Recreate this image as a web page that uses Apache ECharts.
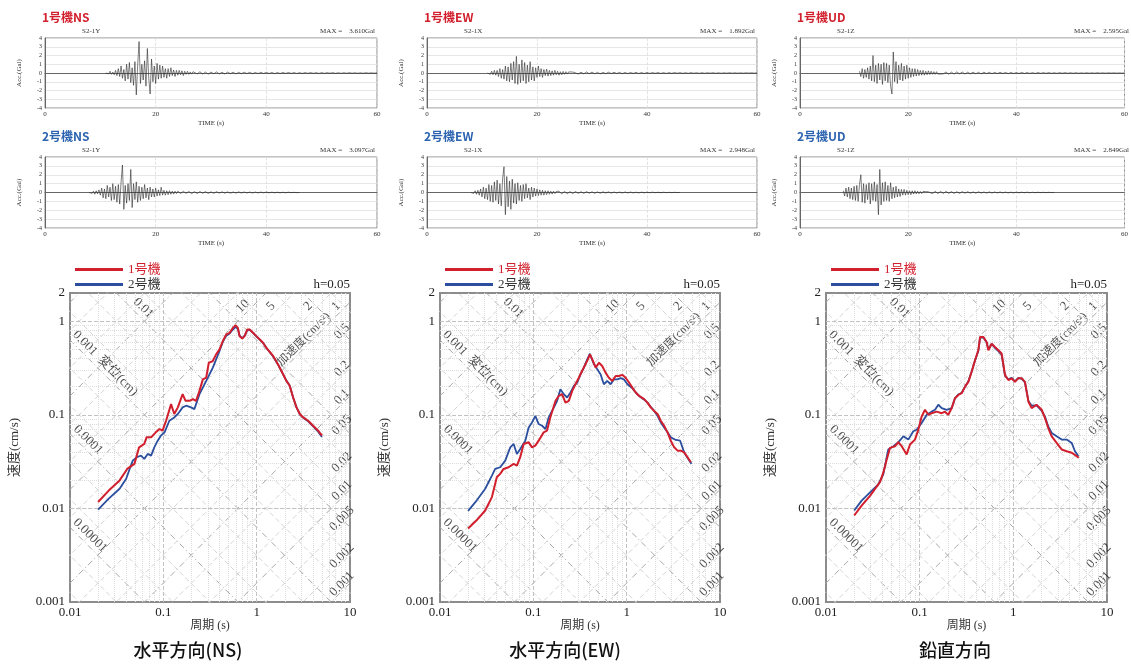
<!DOCTYPE html>
<html>
<head>
  <meta charset="utf-8">
  <title>観測記録と応答スペクトル</title>
  <script src="https://cdn.jsdelivr.net/npm/echarts@6.0.0/dist/echarts.min.js"></script>
  <style>
    body { margin: 0; background: #fff; }
    #chart { width: 1131px; height: 665px; }
  </style>
</head>
<body>
<div id="chart"></div>
<script>
  // 加速度波形 (Gal)：主要動は0.25秒ごと、後続部は0.5秒ごと
  var waveNames = ['1号機NS', '2号機NS', '1号機EW', '2号機EW', '1号機UD', '2号機UD'];
  var waveCodes = ['S2-1Y', 'S2-1Y', 'S2-1X', 'S2-1X', 'S2-1Z', 'S2-1Z'];
  var waveMax = ['3.610', '3.097', '1.892', '2.948', '2.595', '2.849'];
  var waveStart = [11, 8, 11, 8, 11, 8];
  var tailStart = [27, 24, 27, 24, 27, 24];

  var ns1Acc = [
    0, 0.1, -0.1, 0.2, -0.15, 0.1, -0.2, 0.3,
    -0.3, 0.5, -0.4, 0.8, -0.6, 0.4, -0.9, 1.0,
    -0.7, 1.2, -1.1, 0.6, -1.4, 1.3, -2.5, 0.9,
    3.6, -1.2, 1.0, -0.8, 1.4, -1.5, 2.8, -0.6,
    -2.4, 1.6, -1.0, 0.8, -1.2, 1.1, -0.7, 0.9,
    -0.6, 0.8, -0.5, 0.5, -0.6, 0.5, -0.4, 0.6,
    -0.3, 0.35, -0.4, 0.3, -0.25, 0.3, -0.2, 0.25,
    -0.3, 0.2, -0.15, 0.2, -0.15, 0.12, -0.12, 0.15
  ];
  var ns1Tail = [0.12, -0.1, 0.14, -0.12, 0.1, -0.13, 0.11, -0.09, 0.12, -0.1, 0.08, -0.11, 0.1, -0.08, 0.09, -0.1,
    0.07, -0.08, 0.09, -0.07, 0.08, -0.08, 0.06, -0.07, 0.08, -0.06, 0.07, -0.06, 0.06, -0.07, 0.05, -0.06,
    0.06, -0.05, 0.06, -0.05, 0.05, -0.06, 0.04, -0.05, 0.05, -0.04, 0.05, -0.04, 0.04, -0.05, 0.04, -0.04,
    0.04, -0.03, 0.04, -0.04, 0.03, -0.04, 0.03, -0.03, 0.04, -0.03, 0.03, -0.03, 0.02, -0.03, 0.03, -0.02,
    0.02, -0.02, 0.02];
  var ns2Acc = [
    0, 0.1, -0.1, 0.15, -0.2, 0.2, -0.15, 0.3,
    -0.3, 0.5, -0.6, 0.4, -0.7, 0.8, -0.5, 0.6,
    -0.9, 1.0, -0.8, 0.7, -1.1, 0.9, -1.3, 1.2,
    3.1, -1.9, 0.8, -1.2, 1.0, -0.9, 2.6, -1.7,
    1.0, -0.8, 1.2, -1.1, 0.7, -0.9, 0.6, -0.7,
    0.9, -0.6, 0.5, -0.8, 0.6, -0.5, 0.4, -0.5,
    0.5, -0.4, 0.3, -0.35, 0.6, -0.3, 0.25, -0.3,
    0.2, -0.25, 0.2, -0.2, 0.15, -0.18, 0.15, -0.12
  ];
  var ns2Tail = [0.15, -0.12, 0.14, -0.1, 0.12, -0.13, 0.1, -0.12, 0.11, -0.09, 0.1, -0.1, 0.08, -0.1, 0.09, -0.07,
    0.08, -0.08, 0.07, -0.08, 0.06, -0.07, 0.07, -0.06, 0.06, -0.06, 0.05, -0.06, 0.05, -0.05, 0.05, -0.04,
    0.05, -0.04, 0.04, -0.04, 0.03, -0.04, 0.03, -0.03, 0.03, -0.02, 0.02, -0.02, 0.01];
  var ew1Acc = [
    0, 0.1, -0.15, 0.2, -0.2, 0.3, -0.25, 0.3,
    -0.4, 0.5, -0.6, 0.4, -0.7, 0.8, -0.9, 0.7,
    -1.0, 1.1, -0.8, 1.3, -1.2, 1.9, -1.3, 1.0,
    -1.1, 1.5, -0.9, 1.2, -1.2, 0.9, -1.0, 1.3,
    -0.8, 0.7, -0.9, 0.6, -0.5, 0.8, -0.4, 0.5,
    -0.5, 0.4, -0.3, 0.45, -0.35, 0.3, -0.3, 0.25,
    -0.25, 0.3, -0.2, 0.2, -0.25, 0.15, -0.2, 0.18,
    -0.15, 0.15, -0.12, 0.12, -0.1, 0.12, -0.1, 0.08
  ];
  var ew1Tail = [0.1, -0.12, 0.09, -0.1, 0.12, -0.08, 0.1, -0.09, 0.08, -0.1, 0.07, -0.08, 0.09, -0.07, 0.08, -0.06,
    0.07, -0.08, 0.06, -0.07, 0.06, -0.05, 0.07, -0.06, 0.05, -0.06, 0.06, -0.05, 0.05, -0.04, 0.05, -0.05,
    0.04, -0.05, 0.04, -0.04, 0.05, -0.03, 0.04, -0.04, 0.03, -0.04, 0.04, -0.03, 0.03, -0.04, 0.03, -0.03,
    0.03, -0.02, 0.03, -0.03, 0.02, -0.03, 0.02, -0.02, 0.03, -0.02, 0.02, -0.02, 0.02, -0.02, 0.02, -0.01,
    0.02, -0.01, 0.01];
  var ew2Acc = [
    0, 0.1, -0.1, 0.2, -0.2, 0.25, -0.3, 0.4,
    -0.5, 0.6, -0.7, 0.5, -0.8, 0.9, -1.0, 0.8,
    -1.1, 1.2, -0.9, 1.4, -1.3, 1.0, -1.5, 1.6,
    2.9, -2.5, 1.8, -1.6, 1.3, -1.9, 1.5, -1.2,
    1.0, -1.3, 1.1, -0.9, 0.8, -1.0, 0.9, -0.7,
    1.0, -0.6, 0.5, -0.8, 0.6, -0.5, 0.5, -0.4,
    0.4, -0.35, 0.3, -0.3, 0.25, -0.3, 0.2, -0.25,
    0.2, -0.2, 0.15, -0.18, 0.15, -0.12, 0.12, -0.1
  ];
  var ew2Tail = [0.14, -0.15, 0.12, -0.13, 0.1, -0.12, 0.11, -0.1, 0.09, -0.1, 0.1, -0.08, 0.08, -0.09, 0.07, -0.08,
    0.08, -0.06, 0.07, -0.07, 0.06, -0.06, 0.05, -0.06, 0.06, -0.05, 0.05, -0.05, 0.04, -0.05, 0.04, -0.04,
    0.04, -0.03, 0.04, -0.03, 0.03, -0.03, 0.03, -0.02, 0.02, -0.02, 0.02, -0.01, 0.01];
  var ud1Acc = [
    0.2, -0.4, 0.5, -0.6, 0.4, -0.5, 0.6, -0.7,
    0.8, -0.9, 2.0, -1.0, 0.9, -1.2, 1.1, -0.8,
    1.0, -1.3, 1.2, -0.9, 1.1, -1.1, 0.9, -1.5,
    -2.4, 2.4, -1.0, 1.3, -1.2, 0.9, -0.8, 1.1,
    -0.9, 0.8, -0.7, 0.9, -0.6, 0.6, -0.5, 0.5,
    -0.4, 0.5, -0.35, 0.4, -0.3, 0.3, -0.25, 0.3,
    -0.25, 0.2, -0.2, 0.25, -0.18, 0.2, -0.15, 0.15,
    -0.15, 0.15, -0.12, 0.1, -0.12, 0.1, -0.1, 0.1
  ];
  var ud1Tail = [0.12, -0.14, 0.1, -0.12, 0.13, -0.1, 0.11, -0.12, 0.09, -0.1, 0.1, -0.09, 0.08, -0.1, 0.09, -0.07,
    0.08, -0.08, 0.07, -0.07, 0.08, -0.06, 0.06, -0.07, 0.06, -0.06, 0.05, -0.06, 0.06, -0.05, 0.05, -0.05,
    0.04, -0.05, 0.05, -0.04, 0.04, -0.04, 0.05, -0.04, 0.03, -0.04, 0.04, -0.03, 0.04, -0.03, 0.03, -0.03,
    0.03, -0.03, 0.02, -0.03, 0.03, -0.02, 0.02, -0.02, 0.03, -0.02, 0.02, -0.02, 0.02, -0.01, 0.02, -0.01,
    0.01, -0.01, 0.01];
  var ud2Acc = [
    0.2, -0.4, 0.5, -0.5, 0.6, -0.7, 0.5, -0.8,
    0.7, -0.9, 0.8, -1.0, 0.9, 2.0, -1.1, 1.0,
    -1.2, 0.9, -0.8, 1.1, -1.3, 1.0, -0.9, 1.2,
    -1.0, 0.9, -2.5, 2.6, -1.4, 1.1, -1.0, 1.2,
    -0.9, 0.8, -1.0, 1.1, -0.7, 0.6, -0.6, 0.7,
    -0.5, 0.4, -0.45, 0.35, -0.3, 0.35, -0.3, 0.25,
    -0.25, 0.2, -0.25, 0.2, -0.18, 0.2, -0.15, 0.15,
    -0.15, 0.12, -0.12, 0.12, -0.1, 0.1, -0.1, 0.08
  ];
  var ud2Tail = [0.15, -0.13, 0.14, -0.12, 0.12, -0.11, 0.13, -0.1, 0.1, -0.11, 0.09, -0.1, 0.1, -0.08, 0.09, -0.08,
    0.07, -0.08, 0.08, -0.07, 0.06, -0.07, 0.07, -0.06, 0.06, -0.05, 0.06, -0.05, 0.05, -0.05, 0.04, -0.05,
    0.04, -0.04, 0.04, -0.03, 0.04, -0.03, 0.03, -0.03, 0.03, -0.02, 0.02, -0.02, 0.02, -0.01, 0.01];

  // 擬似速度応答スペクトル [周期(s), 速度(cm/s)]
  var nsUnit1 = [[0.020, 0.0117], [0.026, 0.0155], [0.034, 0.0199], [0.041, 0.0264], [0.049, 0.0299], [0.055, 0.0449],
    [0.0625, 0.0488], [0.066, 0.0574], [0.074, 0.0574], [0.083, 0.0649], [0.091, 0.0705], [0.098, 0.0676],
    [0.107, 0.0863], [0.121, 0.130], [0.131, 0.102], [0.143, 0.120], [0.161, 0.166], [0.173, 0.141],
    [0.191, 0.141], [0.207, 0.147], [0.224, 0.141], [0.244, 0.180], [0.265, 0.239], [0.288, 0.249],
    [0.307, 0.360], [0.339, 0.375], [0.368, 0.442], [0.400, 0.500], [0.434, 0.613], [0.472, 0.721],
    [0.513, 0.751], [0.557, 0.849], [0.594, 0.906], [0.629, 0.849], [0.656, 0.692], [0.701, 0.654],
    [0.743, 0.692], [0.794, 0.815], [0.841, 0.815], [0.914, 0.751], [0.991, 0.692], [1.08, 0.638],
    [1.17, 0.588], [1.27, 0.520], [1.50, 0.425], [1.69, 0.346], [1.92, 0.271], [2.08, 0.230], [2.26, 0.204],
    [2.46, 0.153], [2.67, 0.120], [2.90, 0.102], [3.15, 0.0937], [3.56, 0.0863], [4.03, 0.0764],
    [4.56, 0.0676], [5.0, 0.0600]];
  var nsUnit2 = [[0.020, 0.0097], [0.026, 0.0127], [0.034, 0.0162], [0.040, 0.0207], [0.043, 0.0254], [0.047, 0.0324],
    [0.052, 0.0352], [0.0575, 0.0366], [0.0625, 0.0338], [0.068, 0.0382], [0.074, 0.0366], [0.080, 0.0449],
    [0.087, 0.0529], [0.094, 0.0598], [0.103, 0.0649], [0.116, 0.0863], [0.131, 0.0937], [0.143, 0.102],
    [0.161, 0.120], [0.175, 0.125], [0.198, 0.120], [0.215, 0.115], [0.224, 0.110], [0.244, 0.166],
    [0.265, 0.195], [0.300, 0.249], [0.339, 0.319], [0.368, 0.391], [0.400, 0.480], [0.434, 0.600],
    [0.472, 0.700], [0.513, 0.740], [0.557, 0.815], [0.594, 0.870], [0.629, 0.830], [0.656, 0.700],
    [0.701, 0.660], [0.743, 0.700], [0.794, 0.800], [0.841, 0.810], [0.914, 0.750], [0.991, 0.690],
    [1.08, 0.635], [1.17, 0.585], [1.27, 0.520], [1.50, 0.420], [1.69, 0.345], [1.92, 0.270], [2.08, 0.232],
    [2.26, 0.205], [2.46, 0.152], [2.67, 0.121], [2.90, 0.101], [3.15, 0.093], [3.56, 0.085], [4.03, 0.075],
    [4.56, 0.066], [5.0, 0.058]];
  var ewUnit1 = [[0.020, 0.0061], [0.0248, 0.0075], [0.0305, 0.0095], [0.036, 0.0132], [0.0406, 0.0215],
    [0.0441, 0.0234], [0.048, 0.0264], [0.0543, 0.0275], [0.0615, 0.0299], [0.0667, 0.0287], [0.0724, 0.0352],
    [0.0787, 0.0488], [0.0891, 0.0508], [0.0968, 0.0449], [0.105, 0.0468], [0.114, 0.0529], [0.129, 0.0649],
    [0.140, 0.0676], [0.152, 0.0937], [0.173, 0.141], [0.187, 0.159], [0.203, 0.166], [0.221, 0.135],
    [0.240, 0.141], [0.261, 0.180], [0.283, 0.212], [0.307, 0.249], [0.333, 0.294], [0.362, 0.346],
    [0.384, 0.391], [0.404, 0.442], [0.428, 0.391], [0.465, 0.319], [0.505, 0.360], [0.547, 0.332],
    [0.594, 0.282], [0.645, 0.249], [0.701, 0.230], [0.762, 0.260], [0.828, 0.260], [0.898, 0.267],
    [0.975, 0.249], [1.06, 0.221], [1.15, 0.195], [1.25, 0.173], [1.36, 0.159], [1.54, 0.147], [1.67, 0.135],
    [1.81, 0.120], [1.97, 0.110], [2.14, 0.102], [2.32, 0.0863], [2.52, 0.0764], [2.74, 0.0649],
    [2.97, 0.0529], [3.23, 0.0449], [3.51, 0.0414], [3.81, 0.0414], [4.13, 0.0397], [4.49, 0.0352],
    [4.88, 0.0311]];
  var ewUnit2 = [[0.020, 0.0094], [0.0248, 0.0122], [0.0305, 0.0162], [0.036, 0.0224], [0.039, 0.0264],
    [0.0441, 0.0275], [0.050, 0.0324], [0.0566, 0.0449], [0.0615, 0.0488], [0.0667, 0.0382], [0.0724, 0.0431],
    [0.082, 0.0529], [0.0891, 0.0733], [0.0968, 0.0828], [0.105, 0.0975], [0.114, 0.0796], [0.124, 0.0764],
    [0.135, 0.0705], [0.146, 0.0937], [0.166, 0.120], [0.180, 0.141], [0.195, 0.187], [0.212, 0.166],
    [0.230, 0.153], [0.250, 0.173], [0.272, 0.204], [0.295, 0.221], [0.320, 0.271], [0.348, 0.319],
    [0.378, 0.391], [0.404, 0.449], [0.439, 0.360], [0.484, 0.306], [0.525, 0.271], [0.570, 0.212],
    [0.619, 0.230], [0.672, 0.212], [0.730, 0.239], [0.794, 0.239], [0.861, 0.246], [0.935, 0.239],
    [1.02, 0.212], [1.15, 0.192], [1.25, 0.173], [1.36, 0.159], [1.54, 0.145], [1.67, 0.135], [1.81, 0.122],
    [1.97, 0.110], [2.14, 0.0975], [2.32, 0.0828], [2.52, 0.0733], [2.74, 0.0649], [2.97, 0.0574],
    [3.37, 0.0538], [3.74, 0.0529], [4.13, 0.0397], [4.68, 0.0324], [4.95, 0.0299]];
  var udUnit1 = [[0.020, 0.0084], [0.024, 0.0107], [0.0295, 0.0136], [0.0378, 0.0192], [0.0409, 0.0241],
    [0.0445, 0.0333], [0.0482, 0.0443], [0.0546, 0.0462], [0.0592, 0.0509], [0.0643, 0.0462], [0.0726, 0.0377],
    [0.0788, 0.0481], [0.0891, 0.0543], [0.0968, 0.0693], [0.105, 0.0960], [0.114, 0.113], [0.124, 0.100],
    [0.134, 0.104], [0.152, 0.108], [0.172, 0.104], [0.186, 0.108], [0.202, 0.100], [0.220, 0.118],
    [0.238, 0.150], [0.259, 0.163], [0.281, 0.170], [0.305, 0.200], [0.331, 0.225], [0.359, 0.288],
    [0.390, 0.383], [0.423, 0.489], [0.441, 0.676], [0.479, 0.676], [0.519, 0.599], [0.541, 0.489],
    [0.587, 0.575], [0.637, 0.530], [0.692, 0.489], [0.750, 0.451], [0.815, 0.265], [0.885, 0.235],
    [0.960, 0.245], [1.04, 0.225], [1.13, 0.245], [1.23, 0.245], [1.33, 0.225], [1.45, 0.138], [1.57, 0.118],
    [1.77, 0.128], [2.01, 0.113], [2.18, 0.0922], [2.36, 0.0722], [2.57, 0.0589], [2.90, 0.0501],
    [3.28, 0.0426], [3.71, 0.0408], [4.20, 0.0393], [4.74, 0.0362], [5.0, 0.0347]];
  var udUnit2 = [[0.020, 0.0095], [0.024, 0.0121], [0.0295, 0.0148], [0.0362, 0.0181], [0.0409, 0.0231],
    [0.0462, 0.0426], [0.0524, 0.0462], [0.0592, 0.0509], [0.067, 0.0589], [0.0757, 0.0543], [0.0855, 0.0666],
    [0.0929, 0.0693], [0.105, 0.0816], [0.119, 0.100], [0.134, 0.108], [0.146, 0.113], [0.158, 0.128],
    [0.172, 0.118], [0.194, 0.113], [0.220, 0.118], [0.238, 0.150], [0.259, 0.165], [0.281, 0.172],
    [0.305, 0.200], [0.331, 0.228], [0.359, 0.290], [0.390, 0.380], [0.423, 0.480], [0.441, 0.665],
    [0.479, 0.670], [0.519, 0.590], [0.541, 0.500], [0.587, 0.570], [0.637, 0.520], [0.692, 0.480],
    [0.750, 0.440], [0.815, 0.262], [0.885, 0.238], [0.960, 0.248], [1.04, 0.228], [1.13, 0.248],
    [1.23, 0.242], [1.33, 0.222], [1.45, 0.140], [1.57, 0.125], [1.77, 0.126], [2.01, 0.110], [2.18, 0.095],
    [2.36, 0.075], [2.57, 0.064], [2.90, 0.0589], [3.28, 0.0543], [3.71, 0.0543], [4.20, 0.0501],
    [4.55, 0.0408], [4.94, 0.0362]];

  // 三軸目盛り（変位 cm・加速度 cm/s²）
  var gridMantissa = [1, 2, 5];
  var dispDecades = [-6, -5, -4, -3, -2, -1, 0];
  var accDecades = [-3, -2, -1, 0, 1, 2, 3];
  var dispLabels = ['0.01', '0.001  変位(cm)', '0.0001', '0.00001'];
  var dispLabelValues = [0.01, 0.001, 0.0001, 0.00001];
  var dispLabelT = [0.061, 0.0238, 0.0156, 0.0164];
  var accLabelValues = [10, 5, 2, 1, 0.5, 0.2, 0.1, 0.05, 0.02, 0.01, 0.005, 0.002, 0.001];
  var specTitles = ['水平方向(NS)', '水平方向(EW)', '鉛直方向'];

  var SERIF = '"Liberation Serif", "Noto Sans CJK JP", serif';
  var SANS = '"Noto Sans CJK JP", sans-serif';
  var RED = '#d21f2d', BLUE = '#2b4f9e';

  // レイアウト
  var waveLeft = [45, 427, 800], waveWidth = [332, 330, 331];
  var waveTop = [38, 157], waveHeight = [70, 71];
  var specLeft = [70, 440, 826], specWidth = [280, 280, 281];
  var specTop = 293, specHeight = 309;
  var titleX = [188, 565, 955];

  function waveData(start, acc, tStart, tail) {
    var d = [];
    acc.forEach(function (a, i) { d.push([start + i * 0.25, a]); });
    tail.forEach(function (a, i) { d.push([tStart + i * 0.5, a]); });
    return d;
  }

  function round3(v) {
    return +v.toPrecision(3);
  }

  var chart = echarts.init(document.getElementById('chart'));
  var grids = [], xAxes = [], yAxes = [], series = [], graphics = [], legends = [];
  var waveAcc = [ns1Acc, ns2Acc, ew1Acc, ew2Acc, ud1Acc, ud2Acc];
  var waveTail = [ns1Tail, ns2Tail, ew1Tail, ew2Tail, ud1Tail, ud2Tail];

  // 上段：加速度時刻歴
  for (var i = 0; i < 6; i++) {
    var col = Math.floor(i / 2), row = i % 2;
    var gl = waveLeft[col], gw = waveWidth[col], gt = waveTop[row], gh = waveHeight[row];
    grids.push({left: gl, top: gt, width: gw, height: gh, show: true, borderColor: '#8a8a8a', borderWidth: 1});
    xAxes.push({
      gridIndex: i, type: 'value', min: 0, max: 60, interval: 20,
      name: 'TIME (s)', nameLocation: 'middle', nameGap: 12,
      nameTextStyle: {fontFamily: SERIF, fontSize: 7, color: '#333'},
      axisLine: {lineStyle: {color: '#666'}}, axisTick: {show: false},
      axisLabel: {fontFamily: SERIF, fontSize: 7, color: '#333', margin: 3},
      splitLine: {show: true, lineStyle: {color: '#dcdcdc', type: 'dashed', width: 0.8}}
    });
    yAxes.push({
      gridIndex: i, type: 'value', min: -4, max: 4, interval: 1,
      name: 'Acc.(Gal)', nameLocation: 'middle', nameRotate: 90, nameGap: 22,
      nameTextStyle: {fontFamily: SERIF, fontSize: 7, color: '#333'},
      axisLine: {lineStyle: {color: '#666'}}, axisTick: {show: false},
      axisLabel: {fontFamily: SERIF, fontSize: 6, color: '#333', margin: 3},
      splitLine: {show: true, lineStyle: {color: '#e0e0e0', width: 0.8}}
    });
    series.push({
      type: 'line', xAxisIndex: i, yAxisIndex: i, silent: true,
      data: waveData(waveStart[i], waveAcc[i], tailStart[i], waveTail[i]),
      symbol: 'none', lineStyle: {color: '#2a2a2a', width: 0.6}
    });
    graphics.push({type: 'text', x: gl - 3, y: gt - 21, style: {
      text: waveNames[i], fill: row === 0 ? RED : '#2d64b0', font: 'bold 12px ' + SANS, verticalAlign: 'middle'}});
    graphics.push({type: 'text', x: gl + 37, y: gt - 7, style: {
      text: waveCodes[i], fill: '#333', font: '7px ' + SERIF, verticalAlign: 'middle'}});
    graphics.push({type: 'text', x: gl + gw - 2, y: gt - 7, style: {
      text: 'MAX =    ' + waveMax[i] + 'Gal', fill: '#333', font: '7px ' + SERIF, align: 'right', verticalAlign: 'middle'}});
  }

  // 下段：三軸応答スペクトル
  var specData = [[nsUnit1, nsUnit2], [ewUnit1, ewUnit2], [udUnit1, udUnit2]];
  for (var k = 0; k < 3; k++) {
    var gi = 6 + k;
    grids.push({left: specLeft[k], top: specTop, width: specWidth[k], height: specHeight,
      show: true, borderColor: '#8c8c8c', borderWidth: 2});
    xAxes.push({
      gridIndex: gi, type: 'log', logBase: 10, min: 0.01, max: 10,
      name: '周期 (s)', nameLocation: 'middle', nameGap: 16,
      nameTextStyle: {fontFamily: SERIF, fontSize: 12, color: '#333'},
      axisLine: {lineStyle: {color: '#8c8c8c', width: 2}}, axisTick: {show: false},
      axisLabel: {fontFamily: SERIF, fontSize: 13, color: '#222', margin: 4},
      splitLine: {show: false}
    });
    yAxes.push({
      gridIndex: gi, type: 'log', logBase: 10, min: 0.001, max: 2,
      name: '速度(cm/s)', nameLocation: 'middle', nameRotate: 90, nameGap: 49,
      nameTextStyle: {fontFamily: SERIF, fontSize: 13, color: '#333'},
      axisLine: {lineStyle: {color: '#8c8c8c', width: 2}}, axisTick: {show: false},
      axisLabel: {fontFamily: SERIF, fontSize: 13, color: '#222', margin: 5},
      splitLine: {show: false}
    });

    // 対数グリッド（縦横）
    var marks = [];
    [-2, -1, 0].forEach(function (e) {
      for (var m = 1; m <= 9; m++) {
        var v = round3(m * Math.pow(10, e));
        if (v <= 0.01 || v >= 10) continue;
        marks.push({xAxis: v, lineStyle: m === 1 ? {color: '#c2c2c2', type: 'dashed', width: 1} : {color: '#dcdcdc', type: 'dotted', width: 1}});
      }
    });
    [-3, -2, -1, 0].forEach(function (e) {
      for (var m = 1; m <= 9; m++) {
        var v = round3(m * Math.pow(10, e));
        if (v <= 0.001 || v >= 2) continue;
        marks.push({yAxis: v, lineStyle: m === 1 ? {color: '#c2c2c2', type: 'dashed', width: 1} : {color: '#dcdcdc', type: 'dotted', width: 1}});
      }
    });
    series.push({
      type: 'line', xAxisIndex: gi, yAxisIndex: gi, silent: true, z: 1,
      data: [[0.01, 0.001]], symbol: 'none', lineStyle: {opacity: 0},
      markLine: {silent: true, symbol: ['none', 'none'], label: {show: false}, animation: false, data: marks}
    });

    // 斜めグリッド：変位一定線 V = 2πD/T、加速度一定線 V = AT/2π
    dispDecades.forEach(function (e) {
      gridMantissa.forEach(function (m) {
        var d = round3(m * Math.pow(10, e));
        series.push({
          type: 'line', xAxisIndex: gi, yAxisIndex: gi, silent: true, z: 1, symbol: 'none',
          data: [[0.004, 2 * Math.PI * d / 0.004], [25, 2 * Math.PI * d / 25]],
          lineStyle: m === 1 ? {color: '#a8a8a8', type: [6, 3, 1, 3], width: 1} : {color: '#cfcfcf', type: [5, 3], width: 0.9}
        });
      });
    });
    accDecades.forEach(function (e) {
      gridMantissa.forEach(function (m) {
        var a = round3(m * Math.pow(10, e));
        series.push({
          type: 'line', xAxisIndex: gi, yAxisIndex: gi, silent: true, z: 1, symbol: 'none',
          data: [[0.004, a * 0.004 / (2 * Math.PI)], [25, a * 25 / (2 * Math.PI)]],
          lineStyle: m === 1 ? {color: '#a8a8a8', type: [6, 3, 1, 3], width: 1} : {color: '#cfcfcf', type: [5, 3], width: 0.9}
        });
      });
    });

    // 斜め目盛りのラベル
    var dispPts = dispLabelValues.map(function (d, j) {
      var t = dispLabelT[j];
      return {value: [t, 2 * Math.PI * d / t * 1.34], label: {formatter: dispLabels[j]}};
    });
    var accPts = accLabelValues.map(function (a) {
      var t, v;
      if (a >= 1) {
        t = 2 * Math.PI * 1.13 / a; v = 1.44;
      } else {
        t = 8.2; v = a * t / (2 * Math.PI) * 1.19;
      }
      return {value: [t, v], label: {formatter: String(a)}};
    });
    accPts.push({value: [3.2, 3.2 / (2 * Math.PI) * 1.25], label: {formatter: '加速度(cm/s²)', fontSize: 12}});
    series.push({
      type: 'scatter', xAxisIndex: gi, yAxisIndex: gi, silent: true, z: 4, symbolSize: 1,
      itemStyle: {color: 'rgba(0,0,0,0)'}, data: dispPts,
      label: {show: true, position: 'inside', rotate: -45, fontFamily: SERIF, fontSize: 13, color: '#1e1e1e'}
    });
    series.push({
      type: 'scatter', xAxisIndex: gi, yAxisIndex: gi, silent: true, z: 4, symbolSize: 1,
      itemStyle: {color: 'rgba(0,0,0,0)'}, data: accPts,
      label: {show: true, position: 'inside', rotate: 45, fontFamily: SERIF, fontSize: 13, color: '#1e1e1e'}
    });

    // 観測スペクトル
    series.push({
      name: '2号機', type: 'line', xAxisIndex: gi, yAxisIndex: gi, z: 5, color: BLUE,
      data: specData[k][1], symbol: 'none', lineStyle: {color: BLUE, width: 1.8}
    });
    series.push({
      name: '1号機', type: 'line', xAxisIndex: gi, yAxisIndex: gi, z: 6, color: RED,
      data: specData[k][0], symbol: 'none', lineStyle: {color: RED, width: 2}
    });

    legends.push({
      left: specLeft[k], top: 258, orient: 'vertical', icon: 'rect', itemWidth: 48, itemHeight: 3, itemGap: 2,
      selectedMode: false,
      textStyle: {fontFamily: SERIF, fontSize: 13, color: '#333'},
      data: [{name: '1号機', textStyle: {color: RED}}, {name: '2号機', textStyle: {color: '#333'}}]
    });
    graphics.push({type: 'text', x: specLeft[k] + specWidth[k], y: specTop - 8, style: {
      text: 'h=0.05', fill: '#222', font: '13px ' + SERIF, align: 'right', verticalAlign: 'middle'}});
    graphics.push({type: 'text', x: titleX[k], y: 650, style: {
      text: specTitles[k], fill: '#111', font: '500 18px ' + SANS, align: 'center', verticalAlign: 'middle'}});
  }

  chart.setOption({
    animation: false,
    backgroundColor: '#fff',
    grid: grids,
    xAxis: xAxes,
    yAxis: yAxes,
    legend: legends,
    graphic: graphics,
    series: series
  });
</script>
</body>
</html>
